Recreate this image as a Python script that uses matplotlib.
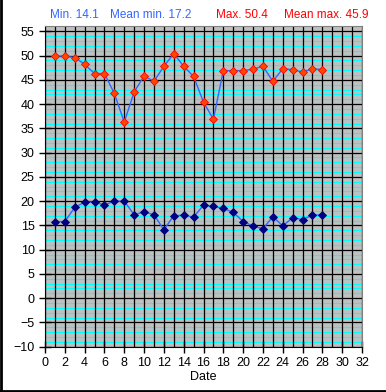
import numpy as np
import matplotlib
matplotlib.use("Agg")
import matplotlib.pyplot as plt
from matplotlib.ticker import MultipleLocator

plt.rcParams['font.family'] = ['Liberation Sans', 'DejaVu Sans']

days = list(range(1, 29))
max_temp = [49.9, 49.9, 49.6, 48.2, 46.3, 46.3, 42.2, 36.3, 42.5, 45.8,
            44.7, 47.8, 50.4, 47.8, 45.7, 40.4, 36.9, 46.9, 46.9, 46.9,
            47.2, 47.8, 44.7, 47.3, 47.1, 46.6, 47.3, 47.1]
min_temp = [15.8, 15.8, 18.7, 19.8, 19.8, 19.2, 20.0, 20.0, 17.2, 17.8,
            17.2, 14.1, 17.0, 17.1, 16.7, 19.2, 18.9, 18.5, 17.7, 15.8,
            14.9, 14.3, 16.8, 14.9, 16.6, 16.2, 17.1, 17.2]
summary_labels = ["Min. 14.1", "Mean min. 17.2", "Max. 50.4", "Mean max. 45.9"]

W, H = 386, 392
fig = plt.figure(figsize=(W / 100, H / 100), dpi=100)
ax = fig.add_axes([45 / W, (H - 346.7) / H, (362 - 45) / W, (346.7 - 26) / H])
ax.set_facecolor('#C0C0C0')

ax.set_xlim(0, 32)
ax.set_ylim(-10, 56.1)
ax.xaxis.set_major_locator(MultipleLocator(2))
ax.xaxis.set_minor_locator(MultipleLocator(1))
ax.yaxis.set_major_locator(MultipleLocator(5))

# cyan lines every unit, drawn under the black grid
for yv in np.arange(-10, 57, 1):
    if yv % 5:
        ax.axhline(yv, color='#00FFFF', lw=0.8, zorder=0.2)
ax.grid(which='major', axis='y', color='black', lw=0.9)
ax.grid(which='both', axis='x', color='black', lw=0.9)
ax.set_axisbelow(True)

ax.tick_params(axis='both', which='major', direction='inout', length=8,
               width=1, labelsize=9, colors='black')
ax.tick_params(axis='x', which='minor', length=0)

for s in ['top', 'right']:
    ax.spines[s].set_color('#808080')
for s in ['left', 'bottom']:
    ax.spines[s].set_color('black')

ax.plot(days, max_temp, color='#3366FF', lw=1, marker='D', ms=4.3,
        mfc='#FF4500', mec='#FF0000', mew=0.6, zorder=3)
ax.plot(days, min_temp, color='#3366FF', lw=1, marker='D', ms=4.3,
        mfc='#000080', mec='#000080', mew=0.6, zorder=3)

ax.set_xlabel('Date', fontsize=9, labelpad=1)

xs = [50.5, 110, 216, 284]
cols = ['#3366FF', '#3366FF', '#FF0000', '#FF0000']
for x, t, c in zip(xs, summary_labels, cols):
    fig.text(x / W, 1 - 15.5 / H, t, color=c, fontsize=8.5, va='center', ha='left')

# outer frame on left and bottom
fig.add_artist(plt.Line2D([0.5 / W, 0.5 / W], [0, 1], color='black', lw=2,
                          transform=fig.transFigure))
fig.add_artist(plt.Line2D([0, 1], [1 / H, 1 / H], color='black', lw=2,
                          transform=fig.transFigure))

fig.savefig('out.png', dpi=100, facecolor='white')
